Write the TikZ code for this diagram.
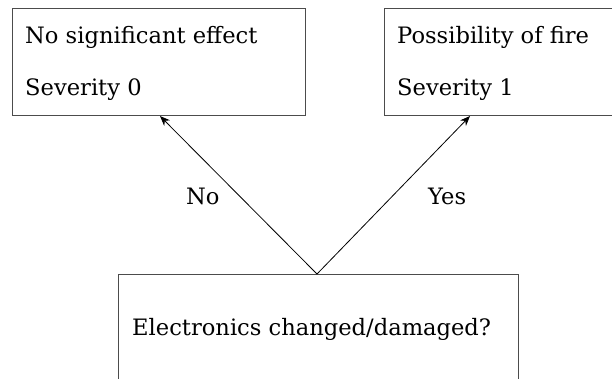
\documentclass[tikz,border=0pt]{standalone}
\usepackage{fontspec}
\setmainfont{DejaVu Serif}
\usetikzlibrary{arrows.meta}
\tikzset{
  box/.style={draw=black!70, line width=0.9pt},
  txt/.style={anchor=base west, inner sep=0pt, font=\fontsize{22.6}{27}\selectfont},
  conn/.style={draw=black, line width=0.8pt, -{Stealth[length=10pt,width=8pt]}}
}
\begin{document}
\begin{tikzpicture}[x=1pt,y=-1pt]
\clip (0,0) rectangle (612,378);
\fill[white] (0,0) rectangle (612,378);
% boxes
\draw[box] (12,8) rectangle (305,115);
\draw[box] (384,8) rectangle (620,115);
\draw[box] (118,390) -- (118,274) -- (518,274) -- (518,390);
% named anchor points
\coordinate (Q) at (317,274);
\coordinate (Ltip) at (160,116);
\coordinate (Rtip) at (470,116);
% texts
\node[txt] (l1) at (25,43) {No significant effect};
\node[txt] (l2) at (25,95) {Severity 0};
\node[txt] (r1) at (397,43) {Possibility of fire};
\node[txt] (r2) at (397,95) {Severity 1};
\node[txt] (q) at (132,335) {Electronics changed/damaged?};
\node[txt] (no) at (186,204) {No};
\node[txt] (yes) at (428,204) {Yes};
% connectors
\draw[conn] (Q) -- (Ltip);
\draw[conn] (Q) -- (Rtip);
\end{tikzpicture}
\end{document}
